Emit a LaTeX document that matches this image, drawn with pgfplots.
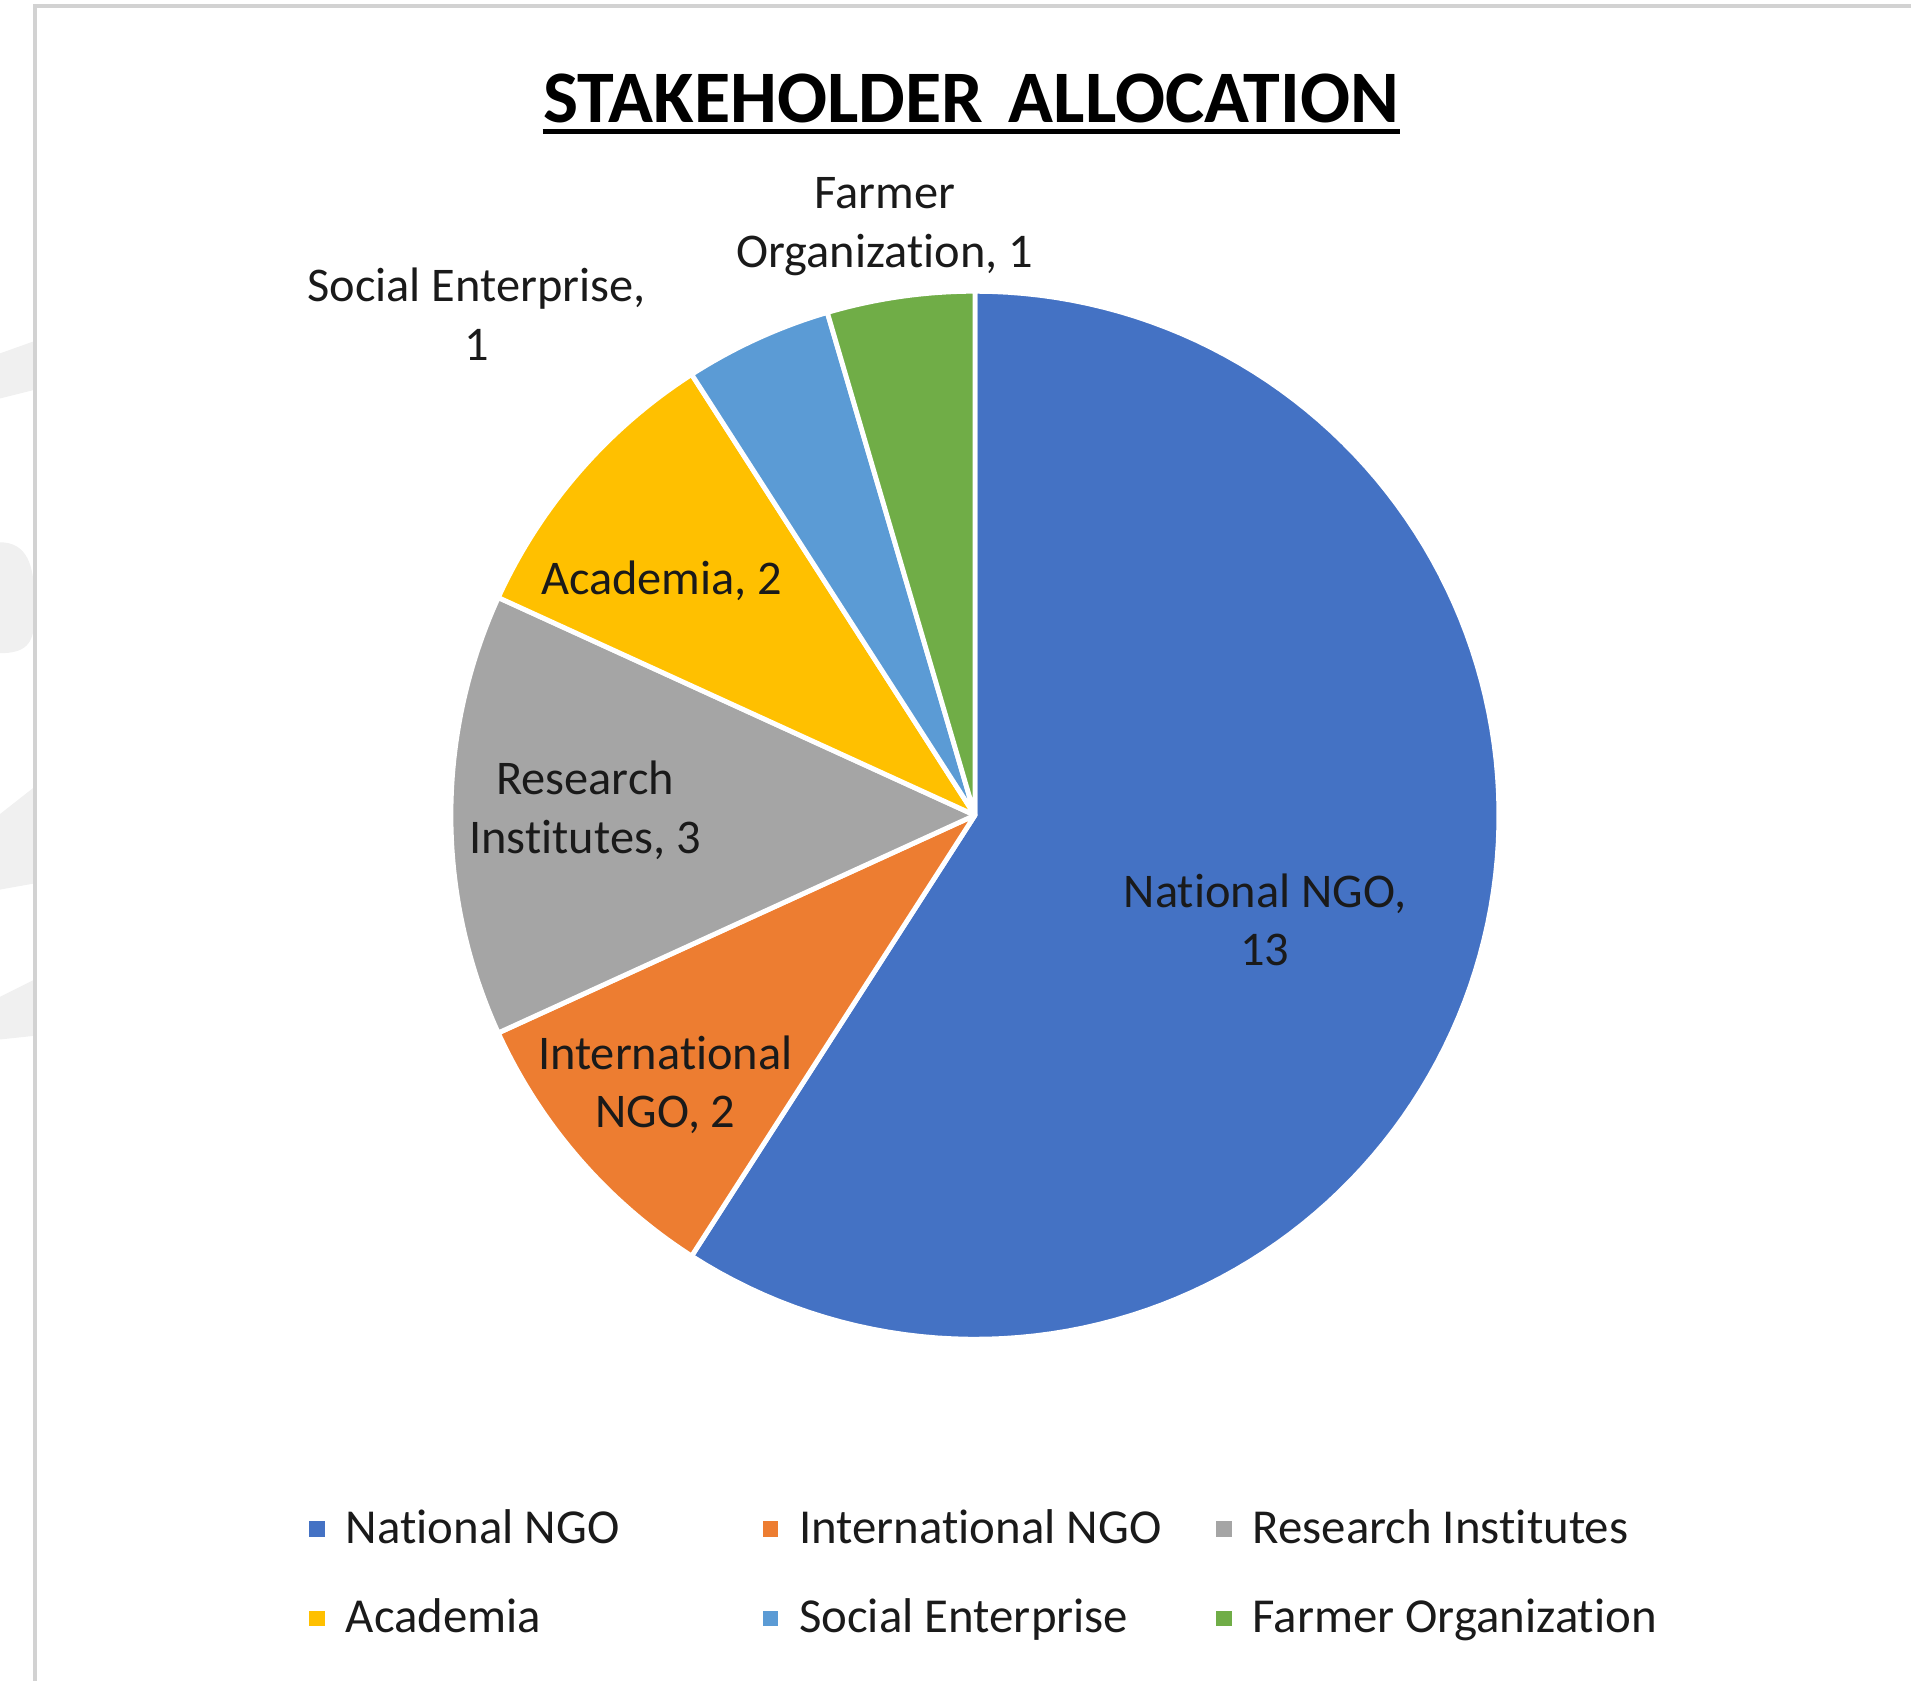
\documentclass[border=0pt]{standalone}
\usepackage{fontspec}
\setmainfont{Carlito}[Ligatures={NoCommon,NoContextual}]
\usepackage{pgfplots}
\usepackage{pgfplotstable}
\pgfplotsset{compat=1.18}

\definecolor{cNat}{HTML}{4472C4}
\definecolor{cInt}{HTML}{ED7D31}
\definecolor{cRes}{HTML}{A5A5A5}
\definecolor{cAca}{HTML}{FFC000}
\definecolor{cSoc}{HTML}{5B9BD5}
\definecolor{cFar}{HTML}{70AD47}
\definecolor{txt}{HTML}{1A1A1A}

% stakeholder counts
\pgfplotstableread{
name value
NationalNGO 13
InternationalNGO 2
ResearchInstitutes 3
Academia 2
SocialEnterprise 1
FarmerOrganization 1
}\stakeholders

\begin{document}
\begin{tikzpicture}
\pgfplotstablegetelem{0}{value}\of\stakeholders \let\vA\pgfplotsretval
\pgfplotstablegetelem{1}{value}\of\stakeholders \let\vB\pgfplotsretval
\pgfplotstablegetelem{2}{value}\of\stakeholders \let\vC\pgfplotsretval
\pgfplotstablegetelem{3}{value}\of\stakeholders \let\vD\pgfplotsretval
\pgfplotstablegetelem{4}{value}\of\stakeholders \let\vE\pgfplotsretval
\pgfplotstablegetelem{5}{value}\of\stakeholders \let\vF\pgfplotsretval
\pgfmathsetmacro\tot{\vA+\vB+\vC+\vD+\vE+\vF}
% slice boundaries, clockwise from 12 o'clock
\pgfmathsetmacro\aA{90}
\pgfmathsetmacro\aB{\aA-360*\vA/\tot}
\pgfmathsetmacro\aC{\aB-360*\vB/\tot}
\pgfmathsetmacro\aD{\aC-360*\vC/\tot}
\pgfmathsetmacro\aE{\aD-360*\vD/\tot}
\pgfmathsetmacro\aF{\aE-360*\vE/\tot}
\pgfmathsetmacro\aG{\aF-360*\vF/\tot}
\def\cx{800}\def\cy{710}\def\rr{430}
\begin{axis}[
  width=15.68cm, height=13.79cm, scale only axis,
  xmin=0, xmax=1568, ymin=0, ymax=1379,
  hide axis, clip=false,
  slice/.style={draw=white, line width=0.04cm, line join=round, samples=120},
  legend columns=3,
  legend image code/.code={\fill[#1,draw=none] (0cm,-0.065cm) rectangle (0.13cm,0.065cm);},
  legend style={draw=none, fill=none, inner sep=0pt,
    at={(253/1568,87.5/1379)}, anchor=west,
    font=\fontsize{11.4}{13}\selectfont\color{txt},
    legend cell align=left,
    /tikz/every odd column/.append style={column sep=0.1cm},
    row sep=0.26cm},
]
\path (axis cs:0,0) rectangle (axis cs:1568,1379);
% background watermark and frame
\fill[gray!12] (axis cs:0,1052) -- (axis cs:0,1089) -- (axis cs:28,1099) -- (axis cs:28,1059) -- cycle;
\fill[gray!12] (axis cs:0,934) .. controls (axis cs:22,934) and (axis cs:28,915) .. (axis cs:28,890)
  -- (axis cs:28,870) .. controls (axis cs:28,850) and (axis cs:20,843) .. (axis cs:0,843) -- cycle;
\fill[gray!12] (axis cs:0,649) -- (axis cs:0,711) -- (axis cs:28,733) -- (axis cs:28,654) -- cycle;
\fill[gray!12] (axis cs:0,526) -- (axis cs:0,561) -- (axis cs:28,575) -- (axis cs:28,529) -- cycle;
\draw[gray!35, line width=0.035cm] (axis cs:29,0) -- (axis cs:29,1374) -- (axis cs:1568,1374);

\addplot[slice, fill=cNat, domain=\aB:\aA] ({\cx+\rr*cos(x)},{\cy+\rr*sin(x)}) -- (axis cs:\cx,\cy) -- cycle;
\addlegendentry{\makebox[3.35cm][l]{National NGO}}
\addplot[slice, fill=cInt, domain=\aC:\aB] ({\cx+\rr*cos(x)},{\cy+\rr*sin(x)}) -- (axis cs:\cx,\cy) -- cycle;
\addlegendentry{\makebox[3.35cm][l]{International NGO}}
\addplot[slice, fill=cRes, domain=\aD:\aC] ({\cx+\rr*cos(x)},{\cy+\rr*sin(x)}) -- (axis cs:\cx,\cy) -- cycle;
\addlegendentry{Research Institutes}
\addplot[slice, fill=cAca, domain=\aE:\aD] ({\cx+\rr*cos(x)},{\cy+\rr*sin(x)}) -- (axis cs:\cx,\cy) -- cycle;
\addlegendentry{\makebox[3.35cm][l]{Academia}}
\addplot[slice, fill=cSoc, domain=\aF:\aE] ({\cx+\rr*cos(x)},{\cy+\rr*sin(x)}) -- (axis cs:\cx,\cy) -- cycle;
\addlegendentry{\makebox[3.35cm][l]{Social Enterprise}}
\addplot[slice, fill=cFar, domain=\aG:\aF] ({\cx+\rr*cos(x)},{\cy+\rr*sin(x)}) -- (axis cs:\cx,\cy) -- cycle;
\addlegendentry{Farmer Organization}

% title
\node[inner sep=0pt, font=\fontsize{17.3}{20}\selectfont\bfseries] (ttl) at (axis cs:797,1298) {STAKEHOLDER\hspace{0.35em}ALLOCATION};
\draw[line width=0.04cm] ([yshift=-0.07cm]ttl.base west) -- ([yshift=-0.07cm]ttl.base east);

% data labels
\begin{scope}[every node/.style={align=center, inner sep=0pt, text=txt,
    font=\fontsize{11.3}{13.66}\selectfont}]
\node at (axis cs:1038,624) {National NGO,\\13};
\node at (axis cs:546,489) {International\\NGO, 2};
\node at (axis cs:480,714) {Research\\Institutes, 3};
\node at (axis cs:543,902) {Academia, 2};
\node at (axis cs:391,1121) {Social Enterprise,\\1};
\node at (axis cs:726,1193) {Farmer\\Organization, 1};
\end{scope}
\end{axis}
\end{tikzpicture}
\end{document}
